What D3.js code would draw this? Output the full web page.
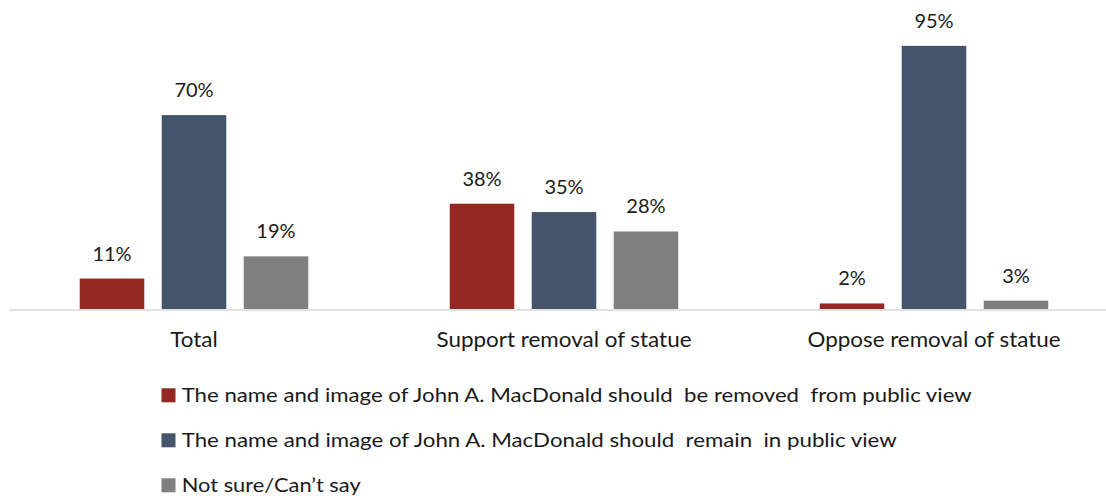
<!DOCTYPE html>
<html>
<head>
<meta charset="utf-8">
<script src="https://cdn.jsdelivr.net/npm/d3@7"></script>
<style>
  html, body { margin: 0; padding: 0; background: #fff; }
  svg { display: block; }
  text { font-family: Lato, "Open Sans", sans-serif; fill: #1a1a1a; }
</style>
</head>
<body>
<svg id="chart" width="1106" height="496"></svg>
<script>
const categories = ["Total", "Support removal of statue", "Oppose removal of statue"];
const seriesNames = [
  "The name and image of John A. MacDonald should  be removed  from public view",
  "The name and image of John A. MacDonald should  remain  in public view",
  "Not sure/Can\u2019t say"
];
const removedValues = [11, 38, 2];
const remainValues = [70, 35, 95];
const notSureValues = [19, 28, 3];
const seriesColors = ["#922821", "#44546a", "#7f7f7f"];

const seriesValues = [removedValues, remainValues, notSureValues];
const data = [];
categories.forEach((c, ci) => {
  seriesValues.forEach((vals, si) => {
    data.push({ cat: c, s: si, v: vals[ci] });
  });
});

const svg = d3.select("#chart");

const x0 = d3.scaleBand().domain(categories).range([9, 1119]).paddingInner(0).paddingOuter(0);
const x1 = d3.scaleBand().domain(d3.range(seriesNames.length)).range([-114.25, 114.25]).paddingInner(0.213).paddingOuter(0);
const y = d3.scaleLinear().domain([0, 100]).range([309, 32]);

// Axis baseline
svg.append("line")
  .attr("x1", 9).attr("x2", 1106)
  .attr("y1", 310).attr("y2", 310)
  .attr("stroke", "#d9d9d9").attr("stroke-width", 1.5);

// Bars
svg.append("g").selectAll("rect").data(data).join("rect")
  .attr("x", d => x0(d.cat) + x0.bandwidth() / 2 + x1(d.s))
  .attr("width", x1.bandwidth())
  .attr("y", d => y(d.v))
  .attr("height", d => y(0) - y(d.v))
  .attr("fill", d => seriesColors[d.s]);

// Value labels
svg.append("g").selectAll("text").data(data).join("text")
  .attr("x", d => x0(d.cat) + x0.bandwidth() / 2 + x1(d.s) + x1.bandwidth() / 2)
  .attr("y", d => y(d.v) - 18)
  .attr("text-anchor", "middle")
  .attr("font-size", 20)
  .text(d => d.v + "%");

// Category labels
const catWidths = [47.5, 255, 253];
svg.append("g").selectAll("text").data(categories).join("text")
  .attr("x", d => x0(d) + x0.bandwidth() / 2)
  .attr("y", 347.3)
  .attr("text-anchor", "middle")
  .attr("font-size", 20.5)
  .attr("textLength", (d, i) => catWidths[i])
  .attr("lengthAdjust", "spacingAndGlyphs")
  .text(d => d);

// Legend
const legendWidths = [790, 715, 179];
const lg = svg.append("g").selectAll("g").data(seriesNames).join("g")
  .attr("transform", (d, i) => `translate(161.5, ${388.3 + i * 45})`);
lg.append("rect")
  .attr("width", 14).attr("height", 14)
  .attr("fill", (d, i) => seriesColors[i]);
lg.append("text")
  .attr("x", 20.2)
  .attr("y", 13.4)
  .attr("font-size", 20)
  .style("white-space", "pre")
  .attr("textLength", (d, i) => legendWidths[i])
  .attr("lengthAdjust", "spacingAndGlyphs")
  .text(d => d);
</script>
</body>
</html>
